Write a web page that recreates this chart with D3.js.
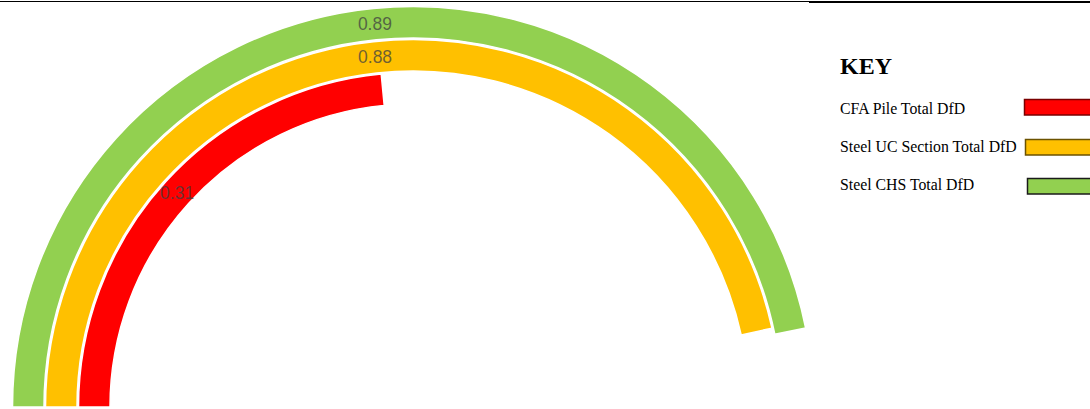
<!DOCTYPE html>
<html>
<head>
<meta charset="utf-8">
<script src="https://cdn.jsdelivr.net/npm/d3@7"></script>
<style>
  html, body { margin: 0; padding: 0; background: #fff; }
  svg { display: block; }
</style>
</head>
<body>
<div id="chart"></div>
<script>
// ---- data ----
const series = ["CFA Pile Total DfD", "Steel UC Section Total DfD", "Steel CHS Total DfD"];
const values = [0.31, 0.88, 0.89];
const hiddenRemainder = [1.01, 1.01, 1.01];   // invisible part of each doughnut ring
const colors = ["#FF0000", "#FFC000", "#92D050"];
const legendBorders = ["#7a0000", "#6b5200", "#1a1a1a"];
const legendTitle = "KEY";

// ---- layout ----
const W = 1090, H = 409;
const cx = 413, cy = 407;
const ringOuter = [334.5, 367.5, 400.5];
const ringWidth = 31.5;

const svg = d3.select("#chart").append("svg")
  .attr("width", W).attr("height", H);

// top rules
svg.append("line").attr("x1", 0).attr("x2", 809).attr("y1", 1.5).attr("y2", 1.5)
  .attr("stroke", "#000").attr("stroke-width", 1);
svg.append("line").attr("x1", 809).attr("x2", W).attr("y1", 2).attr("y2", 2)
  .attr("stroke", "#000").attr("stroke-width", 2);

const g = svg.append("g").attr("transform", `translate(${cx},${cy})`);

const pie = d3.pie().sort(null).startAngle(-Math.PI / 2).endAngle(3 * Math.PI / 2);

values.forEach((v, i) => {
  const slices = pie([v, hiddenRemainder[i]]);
  const arc = d3.arc().innerRadius(ringOuter[i] - ringWidth).outerRadius(ringOuter[i]);
  const s = slices[0];
  g.append("path")
    .attr("d", arc(s))
    .attr("fill", colors[i])
    .attr("stroke", "#fff")
    .attr("stroke-width", 1.5);
  const c = arc.centroid(s);
  g.append("text")
    .attr("x", c[0]).attr("y", c[1])
    .attr("text-anchor", "middle")
    .attr("dominant-baseline", "central")
    .attr("font-family", "'Liberation Sans', Arial, sans-serif")
    .attr("font-size", 17.5)
    .attr("fill", "#404040")
    .attr("fill-opacity", 0.75)
    .text(d3.format(".2f")(v));
});

// ---- legend ----
const lg = svg.append("g");
lg.append("text")
  .attr("x", 840).attr("y", 74)
  .attr("font-family", "'Liberation Serif', 'Times New Roman', serif")
  .attr("font-weight", "bold")
  .attr("font-size", 24)
  .attr("fill", "#000")
  .text(legendTitle);

const rowBase = [114, 152, 190];
const boxX = [1024.5, 1025.5, 1027.5];
const boxY = [99.5, 139.5, 178.5];
series.forEach((name, i) => {
  lg.append("text")
    .attr("x", 840).attr("y", rowBase[i])
    .attr("font-family", "'Liberation Serif', 'Times New Roman', serif")
    .attr("font-size", 15.8)
    .attr("fill", "#000")
    .text(name);
  lg.append("rect")
    .attr("x", boxX[i]).attr("y", boxY[i])
    .attr("width", 80).attr("height", 15.5)
    .attr("fill", colors[i])
    .attr("stroke", legendBorders[i])
    .attr("stroke-width", 1.5);
});
</script>
</body>
</html>
